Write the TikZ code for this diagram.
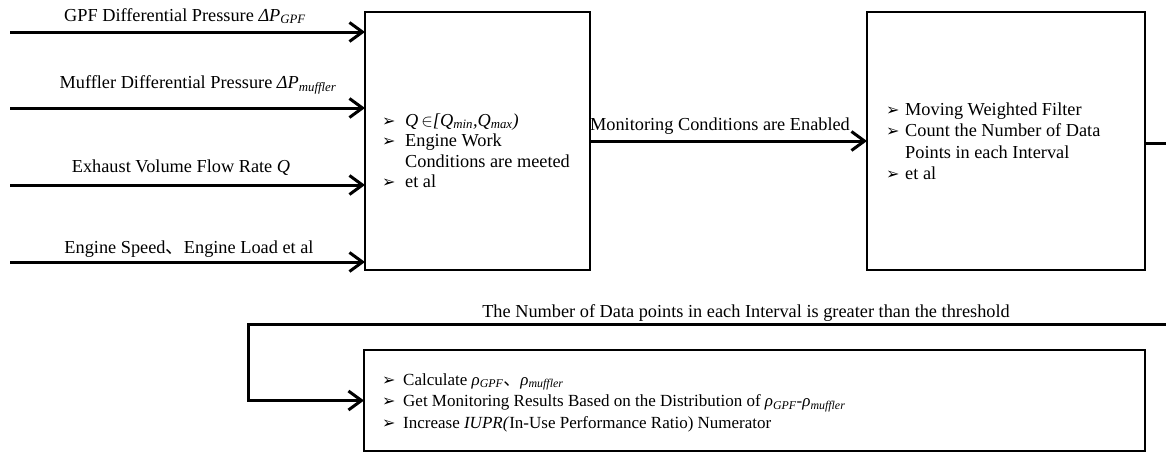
\documentclass[tikz,border=0pt]{standalone}
\usepackage{fontspec}
\setmainfont{Liberation Serif}
\newfontfamily\cjkfont{Noto Sans CJK SC}
\newfontfamily\symfont{DejaVu Sans}
\usetikzlibrary{arrows.meta}

% list bullet and hanging indent
\newcommand{\bul}[1]{\makebox[#1][l]{\symfont\fontsize{16}{16}\selectfont ➢}}
\newcommand{\dun}{{\cjkfont 、}}
\newcommand{\sub}[1]{\textsubscript{\textit{#1}}}

\tikzset{
  blk/.style={draw, line width=2.8pt, inner sep=0pt, outer sep=0pt},
  conn/.style={line width=3pt, line join=miter, -{Straight Barb[length=13pt,width=19pt,line width=3pt]}},
  lbl/.style={anchor=base, inner sep=0pt, font=\fontsize{18.3}{21}\selectfont},
  lst/.style={anchor=base west, inner sep=0pt},
}

\begin{document}
\begin{tikzpicture}[x=1pt, y=-1pt]
\useasboundingbox (0,0) rectangle (1166,455);

% blocks
\node[blk, minimum width=225pt, minimum height=258pt] (cond) at (477.5,141) {};
\node[blk, minimum width=278pt, minimum height=258pt] (filt) at (1006,141) {};
\node[blk, minimum width=781pt, minimum height=101pt] (res) at (754.5,400.5) {};

% block contents
\node[lst] (condtxt) at (382,126) {\fontsize{18.3}{20.5}\selectfont
  \begin{tabular}[t]{@{}l@{}l@{}}
  \bul{23pt} & \textit{Q}\,$\in$\textit{[Q\sub{min},Q\sub{max})}\\
  \bul{23pt} & Engine Work\\
             & Conditions are meeted\\
  \bul{23pt} & et al
  \end{tabular}};
\node[lst] (filttxt) at (886,115) {\fontsize{18.3}{21.5}\selectfont
  \begin{tabular}[t]{@{}l@{}l@{}}
  \bul{19pt} & Moving Weighted Filter\\
  \bul{19pt} & Count the Number of Data\\
             & Points in each Interval\\
  \bul{19pt} & et al
  \end{tabular}};
\node[lst] (restxt) at (382,385) {\fontsize{17}{21.5}\selectfont
  \begin{tabular}[t]{@{}l@{}l@{}}
  \bul{21pt} & Calculate \textit{ρ\sub{GPF}}\dun\textit{ρ\sub{muffler}}\\
  \bul{21pt} & Get Monitoring Results Based on the Distribution of \textit{ρ\sub{GPF}-ρ\sub{muffler}}\\
  \bul{21pt} & Increase \textit{IUPR(}In-Use Performance Ratio) Numerator
  \end{tabular}};

% input signals
\coordinate (in1) at (10,32);
\coordinate (in2) at (10,108);
\coordinate (in3) at (10,185);
\coordinate (in4) at (10,262);
\draw[conn] (in1) -- (in1 -| cond.west);
\draw[conn] (in2) -- (in2 -| cond.west);
\draw[conn] (in3) -- (in3 -| cond.west);
\draw[conn] (in4) -- (in4 -| cond.west);
\node[lbl] (l1) at (185,21) {GPF Differential Pressure \textit{ΔP\sub{GPF}}};
\node[lbl] (l2) at (198,88) {Muffler Differential Pressure \textit{ΔP\sub{muffler}}};
\node[lbl] (l3) at (181,172) {Exhaust Volume Flow Rate \textit{Q}};
\node[lbl] (l4) at (189,253) {Engine Speed\dun Engine Load et al};

% enabling condition
\draw[conn] (cond.east) -- (filt.west);
\node[lbl] (l5) at (720,130) {Monitoring Conditions are Enabled};

% feedback to result block
\coordinate (r1) at (1172,143);
\coordinate (r2) at (1172,324);
\coordinate (r3) at (248,324);
\draw[conn] (filt.east |- r1) -- (r1) -- (r2) -- (r3) |- (res.west);
\node[lbl] (l6) at (746,317) {The Number of Data points in each Interval is greater than the threshold};
\end{tikzpicture}
\end{document}
